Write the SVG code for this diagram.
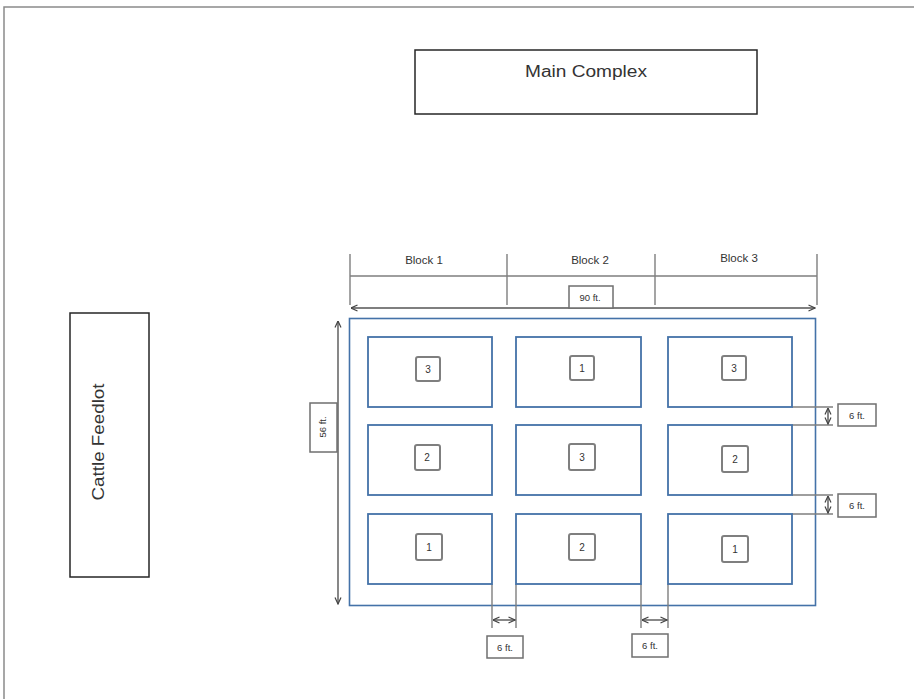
<svg xmlns="http://www.w3.org/2000/svg" width="914" height="699" viewBox="0 0 914 699">
<style>
.page{fill:none;stroke:#8a8a8a;stroke-width:1.5}
.box{fill:#fff;stroke:#262626;stroke-width:1.5}
.field{fill:#fff;stroke:#4472a8;stroke-width:1.6}
.plot{fill:#fff;stroke:#4472a8;stroke-width:1.8}
.num{fill:#fff;stroke:#7f7f7f;stroke-width:2}
.lbl{fill:#fff;stroke:#6f6f6f;stroke-width:1.5}
.dim{fill:none;stroke:#7f7f7f;stroke-width:1.4}
.arr{fill:none;stroke:#555;stroke-width:1.4}
text{font-family:"Liberation Sans",Arial,sans-serif;fill:#333;text-anchor:middle}
.big{font-size:16px}
.med{font-size:11.5px}
.sm{font-size:9.5px}
.n{font-size:10px}
</style>
<defs>
<marker id="ah" viewBox="0 0 8 8" refX="7.5" refY="4" markerWidth="8" markerHeight="8" markerUnits="userSpaceOnUse" orient="auto-start-reverse">
<path d="M1,1 L7.5,4 L1,7" fill="none" stroke="#444" stroke-width="1.2"/>
</marker>
</defs>
<path class="page" d="M4,699 V7 H914"/>

<g id="main-complex">
<rect class="box" x="415" y="50" width="342" height="64"/>
<text class="big" x="586" y="77" textLength="122" lengthAdjust="spacingAndGlyphs">Main Complex</text>
</g>

<g id="cattle-feedlot">
<rect class="box" x="70" y="313" width="79" height="264"/>
<text class="big" transform="translate(104,442) rotate(-90)" textLength="117" lengthAdjust="spacingAndGlyphs">Cattle Feedlot</text>
</g>

<g id="block-headers">
<path class="dim" d="M350,254 V305 M507,254 V305 M655,254 V305 M817,254 V305 M350,276 H817"/>
<text class="med" x="424" y="264">Block 1</text>
<text class="med" x="590" y="264">Block 2</text>
<text class="med" x="739" y="262">Block 3</text>
</g>

<g id="field">
<rect class="field" x="349.5" y="318.5" width="466" height="287"/>
</g>

<g id="connectors">
<line class="arr" x1="351" y1="308" x2="815" y2="308" marker-start="url(#ah)" marker-end="url(#ah)"/>
<line class="arr" x1="338" y1="321" x2="338" y2="604" marker-start="url(#ah)" marker-end="url(#ah)"/>
<path class="dim" d="M492,584 V628 M516,584 V628 M641,584 V628 M668,584 V628"/>
<line class="arr" x1="493" y1="620" x2="515" y2="620" marker-start="url(#ah)" marker-end="url(#ah)"/>
<line class="arr" x1="642" y1="620" x2="667" y2="620" marker-start="url(#ah)" marker-end="url(#ah)"/>
<path class="dim" d="M792,407 H833 M792,425 H833 M792,495 H833 M792,514 H833"/>
<line class="arr" x1="828" y1="408" x2="828" y2="424" marker-start="url(#ah)" marker-end="url(#ah)"/>
<line class="arr" x1="828" y1="496" x2="828" y2="513" marker-start="url(#ah)" marker-end="url(#ah)"/>
</g>

<g id="plot-r1c1"><rect class="plot" x="368" y="337" width="124" height="70"/><rect class="num" x="416" y="357" width="24" height="24" rx="2"/><text class="n" x="428" y="373">3</text></g>
<g id="plot-r1c2"><rect class="plot" x="516" y="337" width="125" height="70"/><rect class="num" x="570" y="356" width="24" height="24" rx="2"/><text class="n" x="582" y="372">1</text></g>
<g id="plot-r1c3"><rect class="plot" x="668" y="337" width="124" height="70"/><rect class="num" x="722" y="356" width="24" height="24" rx="2"/><text class="n" x="734" y="372">3</text></g>
<g id="plot-r2c1"><rect class="plot" x="368" y="425" width="124" height="70"/><rect class="num" x="415" y="445" width="25" height="25" rx="2"/><text class="n" x="427" y="461">2</text></g>
<g id="plot-r2c2"><rect class="plot" x="516" y="425" width="125" height="70"/><rect class="num" x="569" y="444" width="26" height="26" rx="2"/><text class="n" x="582" y="461">3</text></g>
<g id="plot-r2c3"><rect class="plot" x="668" y="425" width="124" height="70"/><rect class="num" x="722" y="446" width="26" height="26" rx="2"/><text class="n" x="735" y="463">2</text></g>
<g id="plot-r3c1"><rect class="plot" x="368" y="514" width="124" height="70"/><rect class="num" x="416" y="534" width="26" height="26" rx="2"/><text class="n" x="429" y="551">1</text></g>
<g id="plot-r3c2"><rect class="plot" x="516" y="514" width="125" height="70"/><rect class="num" x="569" y="534" width="26" height="26" rx="2"/><text class="n" x="582" y="551">2</text></g>
<g id="plot-r3c3"><rect class="plot" x="668" y="514" width="124" height="70"/><rect class="num" x="722" y="536" width="26" height="26" rx="2"/><text class="n" x="735" y="553">1</text></g>

<g id="label-90ft"><rect class="lbl" x="569" y="286" width="44" height="22"/><text class="sm" x="590" y="301">90 ft.</text></g>
<g id="label-56ft"><rect class="lbl" x="310" y="403" width="27" height="49"/><text class="sm" transform="translate(326,427) rotate(-90)">56 ft.</text></g>
<g id="label-6ft-b1"><rect class="lbl" x="487" y="636" width="36" height="22"/><text class="sm" x="505" y="651">6 ft.</text></g>
<g id="label-6ft-b2"><rect class="lbl" x="632" y="634" width="36" height="23"/><text class="sm" x="650" y="649">6 ft.</text></g>
<g id="label-6ft-r1"><rect class="lbl" x="838" y="404" width="38" height="22"/><text class="sm" x="857" y="419">6 ft.</text></g>
<g id="label-6ft-r2"><rect class="lbl" x="838" y="494" width="38" height="23"/><text class="sm" x="857" y="509">6 ft.</text></g>
</svg>
